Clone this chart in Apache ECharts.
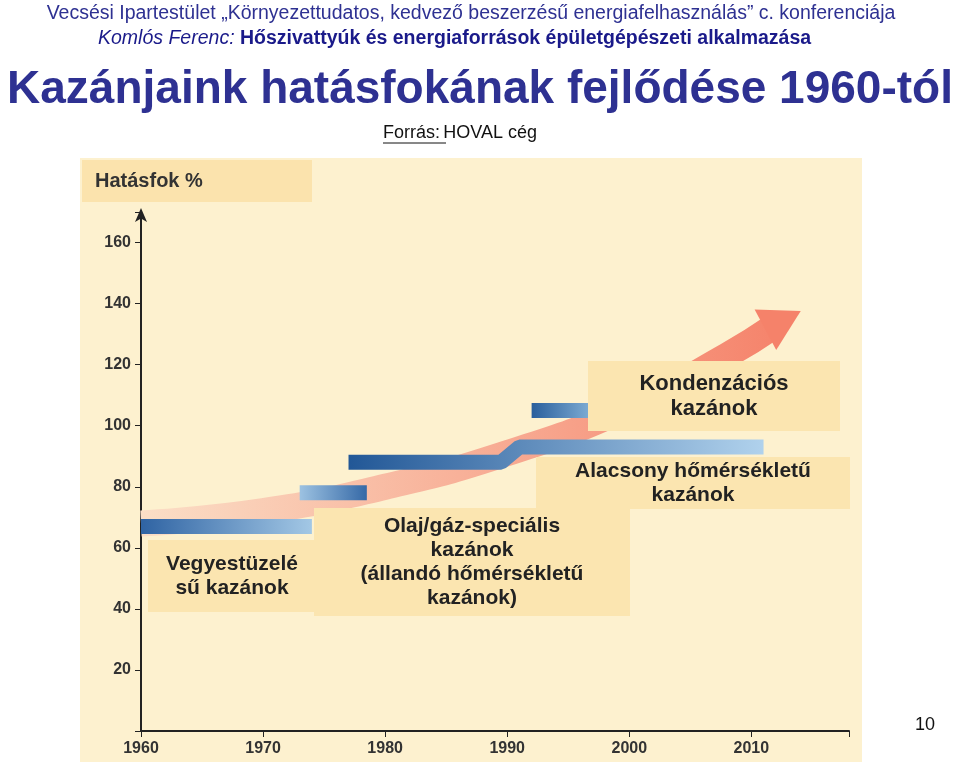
<!DOCTYPE html><html><head><meta charset="utf-8">
<script src="https://cdn.jsdelivr.net/npm/echarts@6/dist/echarts.min.js"></script>
<style>body{margin:0;background:#fff}#c{width:959px;height:762px}</style></head><body><div id="c"></div>
<script>
const yTicks=[20,40,60,80,100,120,140,160];
const xTicks=[1960,1970,1980,1990,2000,2010];
const trendCurve=[[1960,68],[1970,72],[1980,80],[1990,91],[2000,106],[2008,123],[2012,133]];
const barVegyes=[[1960,67],[1974,67]];
const barOlaj=[[1973,78],[1978.5,78]];
const barAlacsony=[[1977,88],[1989.5,88],[1991,93],[2011,93]];
const barKondenz=[[1992,105],[1997,105]];
const chart=echarts.init(document.getElementById('c'));
const grad=(a,b)=>new echarts.graphic.LinearGradient(0,0,1,0,[{offset:0,color:a},{offset:1,color:b}]);
const barSeries=(d,a,b)=>({type:'line',data:d,symbol:'none',silent:true,z:3,lineStyle:{width:15,color:grad(a,b),cap:'butt'}});
const lbl=(x,y,w,h,lines,fs)=>({type:'group',children:[
 {type:'rect',shape:{x:x,y:y,width:w,height:h},style:{fill:'#fbe5b0'},z:4},
 {type:'text',x:x+w/2,y:y+h/2,style:{text:lines,font:'bold '+fs+'px Arial',fill:'#222',align:'center',verticalAlign:'middle',lineHeight:fs+3},z:5}]});
chart.setOption({
 animation:false,
 grid:{left:141,right:110,top:212,bottom:31},
 xAxis:{type:'value',min:1960,max:2018,interval:10,
  axisLine:{lineStyle:{color:'#222',width:2}},axisTick:{length:6,lineStyle:{color:'#222'}},splitLine:{show:false},
  axisLabel:{color:'#333',fontWeight:'bold',fontSize:16,fontFamily:'Arial',margin:10,formatter:v=>xTicks.includes(v)?v:''}},
 yAxis:{type:'value',min:0,max:170,interval:20,
  axisLine:{lineStyle:{color:'#222',width:2},symbol:['none','arrow'],symbolSize:[9,14],symbolOffset:[0,4]},
  axisTick:{inside:false,length:6,lineStyle:{color:'#222'}},splitLine:{show:false},
  axisLabel:{color:'#333',fontWeight:'bold',fontSize:16,fontFamily:'Arial',margin:10,formatter:v=>yTicks.includes(v)?v:''}},
 graphic:[
  {type:'rect',shape:{x:80,y:158,width:782,height:604},style:{fill:'#fdf1cf'},z:-10},
  {type:'rect',shape:{x:82,y:160,width:230,height:42},style:{fill:'#fbe3ad'},z:-9},
  {type:'text',x:95,y:181,style:{text:'Hatásfok %',font:'bold 20px Arial',fill:'#333',verticalAlign:'middle'}},
  {type:'text',x:471,y:14,style:{text:'Vecsési Ipartestület „Környezettudatos, kedvező beszerzésű energiafelhasználás” c. konferenciája',font:'19.5px Arial',fill:'#2e3192',align:'center',verticalAlign:'middle'}},
  {type:'text',x:98,y:39,style:{rich:{a:{font:'italic 19.5px Arial',fill:'#1a1a8a'},b:{font:'bold 19.5px Arial',fill:'#1a1a8a'}},text:'{a|Komlós Ferenc: }{b|Hőszivattyúk és energiaforrások épületgépészeti alkalmazása}',verticalAlign:'middle'}},
  {type:'text',x:480,y:90,style:{text:'Kazánjaink hatásfokának fejlődése 1960-tól',font:'bold 46px Arial',fill:'#2e3192',align:'center',verticalAlign:'middle'}},
  {type:'text',x:383,y:133,style:{rich:{u:{font:'18px Arial',fill:'#111'},n:{font:'18px Arial',fill:'#111'}},text:'{u|Forrás:} {n|HOVAL cég}',verticalAlign:'middle'}},
  {type:'line',shape:{x1:383,y1:143,x2:446,y2:143},style:{stroke:'#111',lineWidth:1}},
  {type:'text',x:925,y:725,style:{text:'10',font:'18px Arial',fill:'#111',align:'center',verticalAlign:'middle'}},
  lbl(148,540,168,72,'Vegyestüzelé\nsű kazánok',21),
  lbl(314,508,316,108,'Olaj/gáz-speciális\nkazánok\n(állandó hőmérsékletű\nkazánok)',21),
  lbl(536,457,314,52,'Alacsony hőmérsékletű\nkazánok',21),
  lbl(588,361,252,70,'Kondenzációs\nkazánok',22)
 ],
 series:[
  {type:'line',data:trendCurve,smooth:true,symbol:'none',z:2,silent:true,
   lineStyle:{width:26,cap:'butt',color:grad('#fbe0c8','#f5826a')},
   markPoint:{silent:true,data:[{coord:[2012.6,134.5],symbol:'triangle',symbolSize:[46,40],symbolRotate:-62,itemStyle:{color:'#f5826a'}}]}},
  barSeries(barVegyes,'#2a5fa0','#a8cce8'),
  barSeries(barOlaj,'#a8cce8','#2a5fa0'),
  barSeries(barAlacsony,'#1f5595','#b3d4ee'),
  barSeries(barKondenz,'#1f5595','#8cb9dd')
 ]
});
</script></body></html>
